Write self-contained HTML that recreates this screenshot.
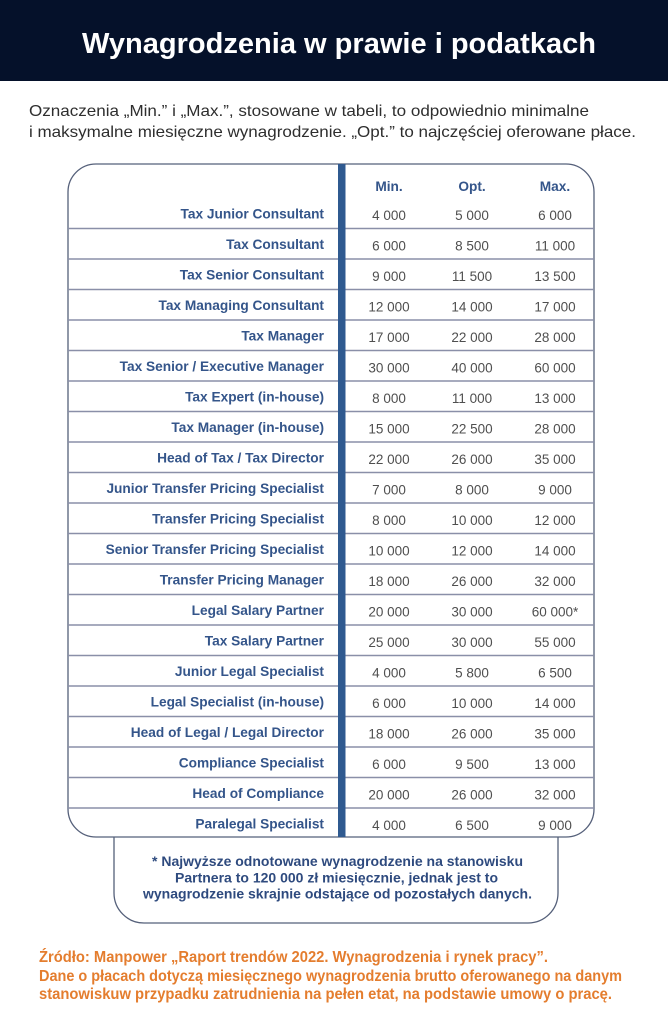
<!DOCTYPE html>
<html>
<head>
<meta charset="utf-8">
<style>
html,body{margin:0;padding:0;background:#fff;}
svg{display:block;}
.lbl{font-family:"Liberation Sans",Arial,sans-serif;font-weight:bold;font-size:13.7px;fill:#34558a;}
.num{font-family:"Liberation Sans",Arial,sans-serif;font-size:13.5px;fill:#4f4f4f;}
.hdr{font-family:"Liberation Sans",Arial,sans-serif;font-weight:bold;font-size:13.7px;fill:#34558a;}
</style>
</head>
<body>
<svg width="669" height="1020" viewBox="0 0 669 1020" xmlns="http://www.w3.org/2000/svg">
  <rect x="0" y="0" width="669" height="1020" fill="#ffffff"/>
  <!-- title band -->
  <rect x="0" y="0" width="668" height="81" fill="#05112a"/>
  <text x="82" y="53" textLength="514" lengthAdjust="spacingAndGlyphs" font-family="Liberation Sans, Arial, sans-serif" font-weight="bold" font-size="29" fill="#ffffff">Wynagrodzenia w prawie i podatkach</text>

  <!-- intro -->
  <text x="29" y="116" textLength="560" lengthAdjust="spacingAndGlyphs" font-family="Liberation Sans, Arial, sans-serif" font-size="16" fill="#2e2e2e">Oznaczenia „Min.” i „Max.”, stosowane w tabeli, to odpowiednio minimalne</text>
  <text x="29" y="137" textLength="607" lengthAdjust="spacingAndGlyphs" font-family="Liberation Sans, Arial, sans-serif" font-size="16" fill="#2e2e2e">i maksymalne miesięczne wynagrodzenie. „Opt.” to najczęściej oferowane płace.</text>

  <!-- footnote box -->
  <path d="M114,836 V893 A30,30 0 0 0 144,923 H528 A30,30 0 0 0 558,893 V836" fill="none" stroke="#55607a" stroke-width="1.3"/>

  <!-- table outline -->
  <rect x="68" y="164" width="526" height="673" rx="28" ry="28" fill="#ffffff" stroke="#55607a" stroke-width="1.3"/>

  <!-- separators -->
  <g stroke="#8a8fa8" stroke-width="1.5">
    <line x1="68" x2="594" y1="228.5" y2="228.5"/>
    <line x1="68" x2="594" y1="259" y2="259"/>
    <line x1="68" x2="594" y1="289.5" y2="289.5"/>
    <line x1="68" x2="594" y1="320" y2="320"/>
    <line x1="68" x2="594" y1="350.5" y2="350.5"/>
    <line x1="68" x2="594" y1="381" y2="381"/>
    <line x1="68" x2="594" y1="411.5" y2="411.5"/>
    <line x1="68" x2="594" y1="442" y2="442"/>
    <line x1="68" x2="594" y1="472.5" y2="472.5"/>
    <line x1="68" x2="594" y1="503" y2="503"/>
    <line x1="68" x2="594" y1="533.5" y2="533.5"/>
    <line x1="68" x2="594" y1="564" y2="564"/>
    <line x1="68" x2="594" y1="594.5" y2="594.5"/>
    <line x1="68" x2="594" y1="625" y2="625"/>
    <line x1="68" x2="594" y1="655.5" y2="655.5"/>
    <line x1="68" x2="594" y1="686" y2="686"/>
    <line x1="68" x2="594" y1="716.5" y2="716.5"/>
    <line x1="68" x2="594" y1="747" y2="747"/>
    <line x1="68" x2="594" y1="777.5" y2="777.5"/>
    <line x1="68" x2="594" y1="808" y2="808"/>
  </g>

  <!-- vertical bar -->
  <rect x="338" y="164" width="7.5" height="673" fill="#2f5a90"/>

  <!-- headers -->
  <text class="hdr" x="389" y="191" text-anchor="middle">Min.</text>
  <text class="hdr" x="472" y="191" text-anchor="middle">Opt.</text>
  <text class="hdr" x="555" y="191" text-anchor="middle">Max.</text>

  <!-- rows -->
  <g class="lbl" text-anchor="end">
    <text x="324" y="218.5">Tax Junior Consultant</text>
    <text x="324" y="249">Tax Consultant</text>
    <text x="324" y="279.5">Tax Senior Consultant</text>
    <text x="324" y="310">Tax Managing Consultant</text>
    <text x="324" y="340.5">Tax Manager</text>
    <text x="324" y="371">Tax Senior / Executive Manager</text>
    <text x="324" y="401.5">Tax Expert (in-house)</text>
    <text x="324" y="432">Tax Manager (in-house)</text>
    <text x="324" y="462.5">Head of Tax / Tax Director</text>
    <text x="324" y="493">Junior Transfer Pricing Specialist</text>
    <text x="324" y="523.5">Transfer Pricing Specialist</text>
    <text x="324" y="554">Senior Transfer Pricing Specialist</text>
    <text x="324" y="584.5">Transfer Pricing Manager</text>
    <text x="324" y="615">Legal Salary Partner</text>
    <text x="324" y="645.5">Tax Salary Partner</text>
    <text x="324" y="676">Junior Legal Specialist</text>
    <text x="324" y="706.5">Legal Specialist (in-house)</text>
    <text x="324" y="737">Head of Legal / Legal Director</text>
    <text x="324" y="767.5">Compliance Specialist</text>
    <text x="324" y="798">Head of Compliance</text>
    <text x="324" y="828.5">Paralegal Specialist</text>
  </g>

  <g class="num" text-anchor="middle">
    <text x="389" y="220">4 000</text><text x="472" y="220">5 000</text><text x="555" y="220">6 000</text>
    <text x="389" y="250.5">6 000</text><text x="472" y="250.5">8 500</text><text x="555" y="250.5">11 000</text>
    <text x="389" y="281">9 000</text><text x="472" y="281">11 500</text><text x="555" y="281">13 500</text>
    <text x="389" y="311.5">12 000</text><text x="472" y="311.5">14 000</text><text x="555" y="311.5">17 000</text>
    <text x="389" y="342">17 000</text><text x="472" y="342">22 000</text><text x="555" y="342">28 000</text>
    <text x="389" y="372.5">30 000</text><text x="472" y="372.5">40 000</text><text x="555" y="372.5">60 000</text>
    <text x="389" y="403">8 000</text><text x="472" y="403">11 000</text><text x="555" y="403">13 000</text>
    <text x="389" y="433.5">15 000</text><text x="472" y="433.5">22 500</text><text x="555" y="433.5">28 000</text>
    <text x="389" y="464">22 000</text><text x="472" y="464">26 000</text><text x="555" y="464">35 000</text>
    <text x="389" y="494.5">7 000</text><text x="472" y="494.5">8 000</text><text x="555" y="494.5">9 000</text>
    <text x="389" y="525">8 000</text><text x="472" y="525">10 000</text><text x="555" y="525">12 000</text>
    <text x="389" y="555.5">10 000</text><text x="472" y="555.5">12 000</text><text x="555" y="555.5">14 000</text>
    <text x="389" y="586">18 000</text><text x="472" y="586">26 000</text><text x="555" y="586">32 000</text>
    <text x="389" y="616.5">20 000</text><text x="472" y="616.5">30 000</text><text x="555" y="616.5">60 000*</text>
    <text x="389" y="647">25 000</text><text x="472" y="647">30 000</text><text x="555" y="647">55 000</text>
    <text x="389" y="677.5">4 000</text><text x="472" y="677.5">5 800</text><text x="555" y="677.5">6 500</text>
    <text x="389" y="708">6 000</text><text x="472" y="708">10 000</text><text x="555" y="708">14 000</text>
    <text x="389" y="738.5">18 000</text><text x="472" y="738.5">26 000</text><text x="555" y="738.5">35 000</text>
    <text x="389" y="769">6 000</text><text x="472" y="769">9 500</text><text x="555" y="769">13 000</text>
    <text x="389" y="799.5">20 000</text><text x="472" y="799.5">26 000</text><text x="555" y="799.5">32 000</text>
    <text x="389" y="830">4 000</text><text x="472" y="830">6 500</text><text x="555" y="830">9 000</text>
  </g>

  <!-- footnote text -->
  <g font-family="Liberation Sans, Arial, sans-serif" font-weight="bold" font-size="13.5" fill="#2e4a7e" text-anchor="middle">
    <text x="337.5" y="866" textLength="371" lengthAdjust="spacingAndGlyphs">* Najwyższe odnotowane wynagrodzenie na stanowisku</text>
    <text x="336.5" y="882.5" textLength="323" lengthAdjust="spacingAndGlyphs">Partnera to 120 000 zł miesięcznie, jednak jest to</text>
    <text x="337.5" y="898.5" textLength="389" lengthAdjust="spacingAndGlyphs">wynagrodzenie skrajnie odstające od pozostałych danych.</text>
  </g>

  <!-- source footer -->
  <g font-family="Liberation Sans, Arial, sans-serif" font-weight="bold" font-size="16" fill="#e47d2e">
    <text x="39" y="962" textLength="509" lengthAdjust="spacingAndGlyphs">Źródło: Manpower „Raport trendów 2022. Wynagrodzenia i rynek pracy”.</text>
    <text x="39" y="981" textLength="583" lengthAdjust="spacingAndGlyphs">Dane o płacach dotyczą miesięcznego wynagrodzenia brutto oferowanego na danym</text>
    <text x="39" y="999" textLength="573" lengthAdjust="spacingAndGlyphs">stanowiskuw przypadku zatrudnienia na pełen etat, na podstawie umowy o pracę.</text>
  </g>
</svg>
</body>
</html>
